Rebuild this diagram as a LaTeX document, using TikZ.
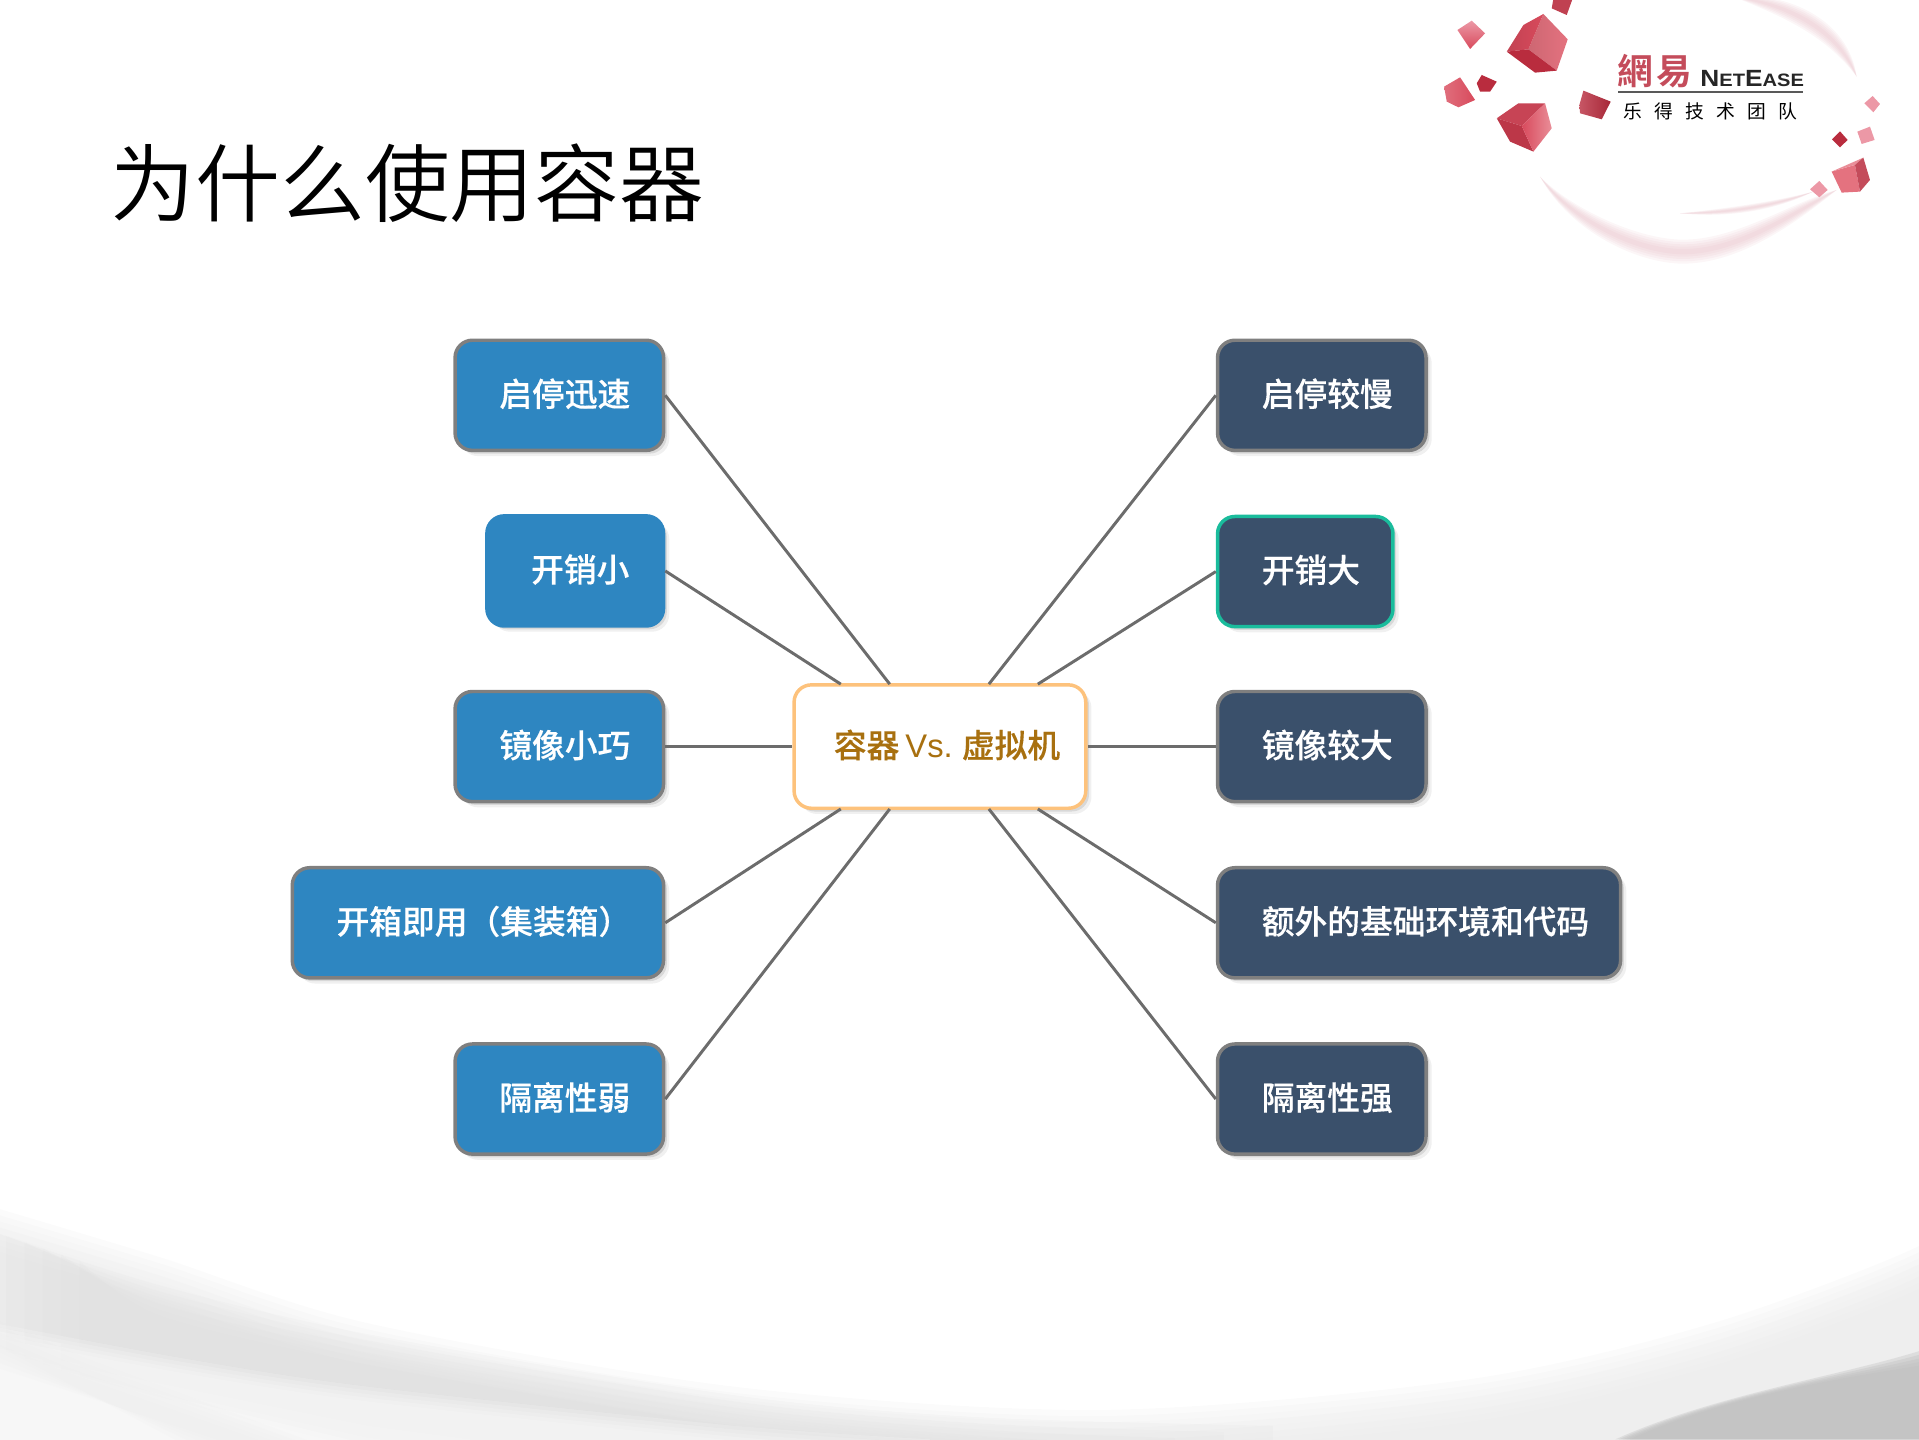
\documentclass[tikz,border=0pt]{standalone}
\usepackage{fontspec}
\usetikzlibrary{shadows,calc}
\setmainfont{Liberation Sans}
\newfontfamily\cjklight{Noto Sans CJK SC DemiLight}
\newfontfamily\cjkmed[FakeBold=0.3]{Noto Sans CJK SC Medium}
\newfontfamily\cjktc{Noto Sans CJK TC Bold}
\newfontfamily\cjkreg{Noto Sans CJK SC}
\definecolor{leftblue}{HTML}{2E86C1}
\definecolor{rightnavy}{HTML}{3A506B}
\definecolor{boxedge}{HTML}{7F7F7F}
\definecolor{tealedge}{HTML}{1ABC9C}
\definecolor{orangeedge}{HTML}{FDC27C}
\definecolor{centertext}{HTML}{A8700F}
\definecolor{connector}{HTML}{6C6C6C}
\definecolor{cubeA}{HTML}{D84A5C}
\definecolor{cubeB}{HTML}{E4727F}
\definecolor{cubeC}{HTML}{B92C3E}
\definecolor{cubeP}{HTML}{E77F90}
\definecolor{swoosh}{HTML}{DFA9B4}
\newcommand{\lab}[1]{\raisebox{2.9pt}{#1}}
\tikzset{
  softshadow/.style={drop shadow={shadow xshift=1.6pt,shadow yshift=-1.6pt,fill=black,opacity=.10},
                     drop shadow={shadow xshift=2.8pt,shadow yshift=-2.8pt,fill=black,opacity=.06}},
  basebox/.style 2 args={rectangle,rounded corners=8.5pt,line width=1.7pt,softshadow,
     minimum height=54pt,minimum width=#1*0.6pt-1pt,text width=#1*0.6pt-44.4pt,inner xsep=21.7pt,inner ysep=0pt,
     align=left,text=white,font=\cjkmed\fontsize{16.05}{18}\selectfont,fill=#2},
  lbox/.style={basebox={#1}{leftblue},draw=boxedge},
  rbox/.style={basebox={#1}{rightnavy},draw=boxedge},
  conn/.style={draw=connector,line width=1.45pt},
  crescent/.style={fill=swoosh,opacity=.10},
}
\begin{document}
\begin{tikzpicture}[x=0.6pt,y=-0.6pt]
\useasboundingbox (0,0) rectangle (1568,1175.8);
\clip (0,0) rectangle (1568,1175.8);
% bottom background
\foreach \d in {0,5,...,35}{
  \fill[fill=black!9,opacity=.16,yshift=-\d*0.6pt] plot[smooth] coordinates {(-10,985) (130,1027) (300,1081) (600,1133) (900,1152) (1200,1127) (1400,1081) (1568,1018) (1580,990)} -- (1580,1300) -- (-10,1300) -- cycle;
}
\foreach \d in {0,5,...,25}{
  \fill[fill=black!14,opacity=.13,yshift=-\d*0.6pt] plot[smooth] coordinates {({-10+\d*3},1005) (130,1050) (300,1090) (600,1140) (800,1158) ({1040-\d*8},1165)} -- ({1040-\d*8},1215) -- (750,1215) -- (600,1200) -- (300,1160) -- ({-10+\d*3},1100) -- cycle;
}
\foreach \d in {0,3,...,12}{
  \fill[fill=white,opacity=.17,yshift=-\d*0.6pt] plot[smooth] coordinates {(-10,1080) (150,1110) (300,1133) (600,1165) (760,1176)} -- (760,1300) -- (-10,1300) -- cycle;
}
\foreach \d in {0,5,...,20}{
  \fill[fill=black!10,opacity=.07] (-10,{1095+\d}) -- ({150+\d*2},1180) -- ({260-\d*2},1180) -- ({70-\d},{1110+\d*.5}) -- (-10,{1075+\d}) -- cycle;
}
\foreach \d in {0,3,...,12}{
  \fill[fill=black!25,opacity=.35] ({1320+\d},1176) .. controls ({1400+\d},1140) and ({1500+\d},1125) .. (1568,{1104+\d}) -- (1568,1176) -- cycle;
}
% top right logo, coordinates of the logo art
\begin{scope}[shift={(1144,0)},x=0.16338pt,y=-0.16338pt]
  \foreach \t in {36,29,22,15,8}{
    \fill[crescent] (420,530) .. controls (510,{660+\t}) and (720,{760+\t}) .. (860,{755+\t}) .. controls (1020,{750+\t}) and (1180,{640+\t}) .. (1310,570)
       .. controls (1180,{640-\t}) and (1020,{750-\t}) .. (860,{755-\t}) .. controls (720,{760-\t}) and (510,{660-\t}) .. (420,530) -- cycle;
    \fill[crescent] (1000,-10) .. controls ({1150+\t*.3},{10-\t}) and ({1310+\t},{80-\t*.6}) .. (1370,230)
       .. controls ({1310-\t},{80+\t*.6}) and ({1150-\t*.3},{10+\t}) .. (1000,-10) -- cycle;
    \fill[crescent] (840,640) .. controls (980,{640+\t*.4}) and (1120,{620+\t*.4}) .. (1240,575)
       .. controls (1120,{620-\t*.4}) and (980,{640-\t*.4}) .. (840,640) -- cycle;
  }
  % cube A
  \shade[left color=cubeB!90!black,right color=cubeB] (430,42) -- (503,118) -- (470,212) -- (385,148) -- cycle;
  \shade[left color=cubeA!90!black,right color=cubeA] (370,75) -- (430,42) -- (385,148) -- (320,155) -- cycle;
  \fill[cubeC] (320,155) -- (385,148) -- (470,212) -- (405,218) -- cycle;
  % cube B
  \fill[cubeA!92!black] (290,355) -- (355,310) -- (435,310) -- (365,378) -- cycle;
  \fill[cubeC!95!white] (290,355) -- (365,378) -- (400,455) -- (330,425) -- cycle;
  \shade[left color=cubeA,right color=cubeB!80!white] (365,378) -- (435,310) -- (455,385) -- (400,455) -- cycle;
  % small ones
  \fill[cubeC!90!white] (460,-5) -- (518,-5) -- (500,45) -- (455,25) -- cycle;
  \shade[top color=cubeP!80!white,bottom color=cubeA] (172,90) -- (215,62) -- (255,100) -- (210,147) -- cycle;
  \shade[left color=cubeA!80!white,right color=cubeA] (132,260) -- (180,232) -- (225,300) -- (175,322) -- (140,305) -- cycle;
  \fill[cubeC] (230,250) -- (245,225) -- (290,245) -- (270,275) -- (240,275) -- cycle;
  \shade[left color=cubeC!80!white,right color=cubeC!90!black] (550,272) -- (632,305) -- (605,358) -- (540,340) -- (538,315) -- cycle;
  \fill[cubeP!80!white] (1393,310) -- (1418,288) -- (1440,312) -- (1420,337) -- cycle;
  \fill[cubeP!80!white] (1372,395) -- (1410,380) -- (1424,420) -- (1385,432) -- cycle;
  \fill[cubeC] (1296,418) -- (1320,394) -- (1343,420) -- (1320,442) -- cycle;
  \fill[cubeB] (1295,515) -- (1365,495) -- (1380,575) -- (1325,578) -- cycle;
  \fill[cubeB!80!white] (1295,515) -- (1390,473) -- (1365,495) -- cycle;
  \fill[cubeC!85!white] (1365,495) -- (1390,473) -- (1410,540) -- (1380,575) -- cycle;
  \fill[cubeP!80!white] (1230,568) -- (1258,543) -- (1283,570) -- (1258,592) -- cycle;
  % logo texts
  \node[anchor=west,inner sep=0pt,text=cubeC!85!white,font=\cjktc\fontsize{17.5}{18}\selectfont] (logocn) at (652,214) {網\hspace{1.5pt}易};
  \node[anchor=west,inner sep=0pt,text=black!85,font=\bfseries\fontsize{11.5}{12}\selectfont] (logoen) at (900,236) {\scalebox{1.12}[1]{N{\fontsize{8.8}{10}\selectfont ET}E{\fontsize{8.8}{10}\selectfont ASE}}};
  \draw[black!65,line width=0.8pt] (655,277) -- (1208,277);
  \node[anchor=west,inner sep=0pt,text=black,font=\cjkreg\fontsize{9.2}{10}\selectfont] (logoteam) at (668,333) {乐\hspace{6pt}得\hspace{6pt}技\hspace{6pt}术\hspace{6pt}团\hspace{6pt}队};
\end{scope}
% title
\node[anchor=west,inner sep=0pt,text=black,font=\cjklight\fontsize{41.6}{46}\selectfont] (title) at (90,150) {为什么使用容器};
% boxes
\node[lbox=172,anchor=center] (l1) at (457,323) {\lab{启停迅速}};
\node[lbox=146,draw=leftblue,anchor=center] (l2) at (470,466.5) {\lab{开销小}};
\node[lbox=172,anchor=center] (l3) at (457,610) {\lab{镜像小巧}};
\node[lbox=305,anchor=center] (l4) at (390.5,754) {\lab{开箱即用（集装箱）}};
\node[lbox=172,anchor=center] (l5) at (457,898) {\lab{隔离性弱}};
\node[rbox=172,anchor=center] (r1) at (1080,323) {\lab{启停较慢}};
\node[rbox=145,draw=tealedge,anchor=center] (r2) at (1066.5,467) {\lab{开销大}};
\node[rbox=172,anchor=center] (r3) at (1080,610) {\lab{镜像较大}};
\node[rbox=331,anchor=center] (r4) at (1159.5,754) {\lab{额外的基础环境和代码}};
\node[rbox=172,anchor=center] (r5) at (1080,898) {\lab{隔离性强}};
\node[basebox={240}{white},draw=orangeedge,text=centertext,minimum height=60.5pt,text width=122pt,inner xsep=10pt,anchor=center] (c) at (768,610) {\hspace*{9pt}\lab{容器\hspace{3pt}{\rmfamily Vs.}\hspace{4.5pt}虚拟机}};
% connector ends on the centre box
\coordinate (cl1) at (727,559);
\coordinate (cl2) at (687,559);
\coordinate (cl4) at (687,661);
\coordinate (cl5) at (727,661);
\coordinate (cr1) at (808,559);
\coordinate (cr2) at (848,559);
\coordinate (cr4) at (848,661);
\coordinate (cr5) at (808,661);
\draw[conn] (l1.east) -- (cl1);
\draw[conn] (l2.east) -- (cl2);
\draw[conn] (l3.east) -- (c.west);
\draw[conn] (l4.east) -- (cl4);
\draw[conn] (l5.east) -- (cl5);
\draw[conn] (r1.west) -- (cr1);
\draw[conn] (r2.west) -- (cr2);
\draw[conn] (r3.west) -- (c.east);
\draw[conn] (r4.west) -- (cr4);
\draw[conn] (r5.west) -- (cr5);
\end{tikzpicture}
\end{document}
